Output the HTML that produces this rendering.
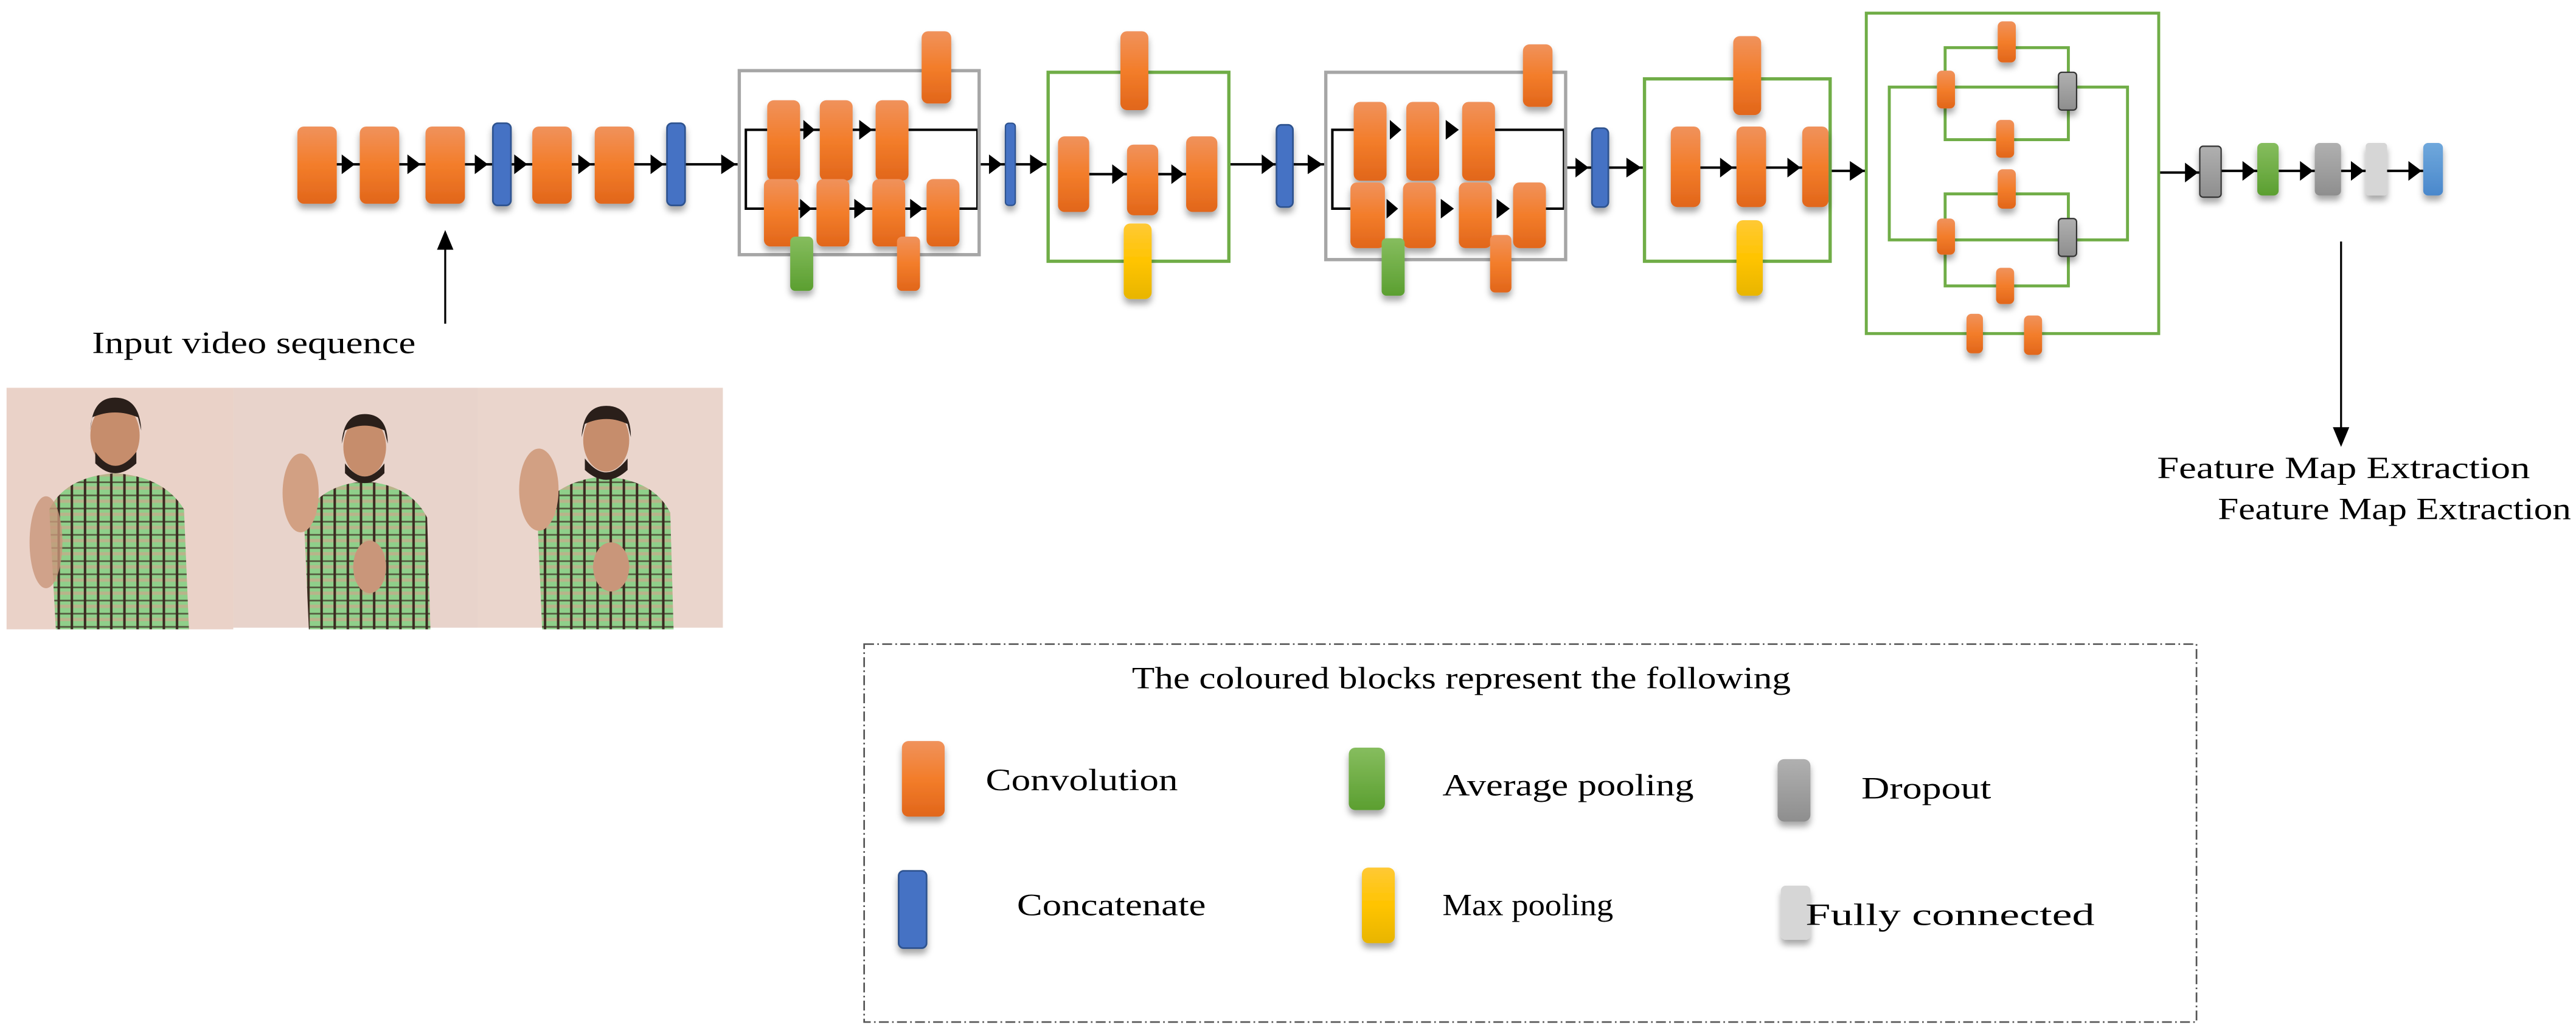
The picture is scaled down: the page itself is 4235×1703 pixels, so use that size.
<!DOCTYPE html>
<html><head><meta charset="utf-8"><style>
html,body{margin:0;padding:0;background:#fff;}
svg{display:block;}
text{font-family:"Liberation Serif",serif;fill:#000;}
</style></head><body>
<svg width="4235" height="1703" viewBox="0 0 1568 630.5" preserveAspectRatio="none" xmlns="http://www.w3.org/2000/svg">
<defs>
<linearGradient id="or" x1="0" y1="0" x2="0" y2="1"><stop offset="0" stop-color="#f0925c"/><stop offset="0.5" stop-color="#f37d2a"/><stop offset="1" stop-color="#e1661b"/></linearGradient>
<linearGradient id="gr" x1="0" y1="0" x2="0" y2="1"><stop offset="0" stop-color="#86bd5e"/><stop offset="1" stop-color="#5b9f30"/></linearGradient>
<linearGradient id="ye" x1="0" y1="0" x2="0" y2="1"><stop offset="0" stop-color="#ffc935"/><stop offset="0.5" stop-color="#ffc400"/><stop offset="1" stop-color="#e8b500"/></linearGradient>
<linearGradient id="gy" x1="0" y1="0" x2="0" y2="1"><stop offset="0" stop-color="#b0b0b0"/><stop offset="1" stop-color="#8e8e8e"/></linearGradient>
<linearGradient id="bl2" x1="0" y1="0" x2="0" y2="1"><stop offset="0" stop-color="#6fa8dc"/><stop offset="1" stop-color="#4a88cc"/></linearGradient>
<filter id="sh" x="-50%" y="-30%" width="200%" height="170%"><feDropShadow dx="0" dy="3" stdDeviation="2" flood-color="#000" flood-opacity="0.35"/></filter>
<pattern id="plaid" width="8" height="8" patternUnits="userSpaceOnUse"><rect width="8" height="8" fill="#8fcf8a"/><rect x="0" y="0" width="8" height="2" fill="#c9a98a" opacity="0.7"/><rect x="3" y="0" width="1.5" height="8" fill="#3a2a20"/><rect x="0" y="5" width="8" height="1" fill="#3a2a20" opacity="0.7"/></pattern>
</defs>

<g stroke="#000" stroke-width="1.5" fill="none">
<line x1="204" y1="100" x2="219" y2="100"/><line x1="243" y1="100" x2="259" y2="100"/><line x1="283" y1="100" x2="300" y2="100"/><line x1="311" y1="100" x2="324" y2="100"/><line x1="348" y1="100" x2="362" y2="100"/><line x1="386" y1="100" x2="406" y2="100"/><line x1="417" y1="100" x2="449" y2="100"/>
<line x1="596" y1="100" x2="612" y2="100"/><line x1="617" y1="100" x2="637" y2="100"/>
<line x1="748" y1="100" x2="777" y2="100"/><line x1="787" y1="100" x2="806" y2="100"/>
<line x1="953" y1="102" x2="969" y2="102"/><line x1="979" y1="102" x2="1000" y2="102"/>
<line x1="1114" y1="104" x2="1136" y2="104"/>
<line x1="1314" y1="105" x2="1339" y2="105"/><line x1="1352" y1="104" x2="1374" y2="104"/><line x1="1387" y1="104" x2="1409" y2="104"/><line x1="1425" y1="104" x2="1440" y2="104"/><line x1="1453" y1="104" x2="1475" y2="104"/>
<polyline points="467,79 454,79 454,127 465,127"/><line x1="553" y1="79" x2="595" y2="79"/><line x1="595" y1="79" x2="595" y2="127"/><line x1="584" y1="127" x2="595" y2="127"/>
<line x1="487" y1="79" x2="499" y2="79"/><line x1="519" y1="79" x2="533" y2="79"/>
<line x1="486" y1="127" x2="497" y2="127"/><line x1="517" y1="127" x2="531" y2="127"/><line x1="551" y1="127" x2="564" y2="127"/>
<polyline points="824,79 811,79 811,127 822,127"/><line x1="910" y1="79" x2="952" y2="79"/><line x1="952" y1="79" x2="952" y2="127"/><line x1="941" y1="127" x2="952" y2="127"/>
<line x1="663" y1="106" x2="686" y2="106"/><line x1="705" y1="106" x2="722" y2="106"/>
<line x1="1035" y1="102" x2="1057" y2="102"/><line x1="1075" y1="102" x2="1097" y2="102"/>
<line x1="271" y1="142" x2="271" y2="197" stroke-width="1.2"/>
<line x1="1425" y1="147" x2="1425" y2="262" stroke-width="1.2"/>
</g>
<g fill="#000">
<polygon points="208,94 216,100 208,106"/><polygon points="248,94 256,100 248,106"/><polygon points="289,94 297,100 289,106"/><polygon points="313,94 321,100 313,106"/><polygon points="352,94 360,100 352,106"/><polygon points="396,94 404,100 396,106"/><polygon points="439,94 448,100 439,106"/>
<polygon points="602,94 610,100 602,106"/><polygon points="627,94 636,100 627,106"/>
<polygon points="768,94 776,100 768,106"/><polygon points="796,94 805,100 796,106"/>
<polygon points="959,96 967,102 959,108"/><polygon points="990,96 999,102 990,108"/>
<polygon points="1126,98 1135,104 1126,110"/>
<polygon points="1330,99 1338,105 1330,111"/><polygon points="1365,98 1373,104 1365,110"/><polygon points="1400,98 1408,104 1400,110"/><polygon points="1431,98 1439,104 1431,110"/><polygon points="1466,98 1474,104 1466,110"/>
<polygon points="489,73 496,79 489,85"/><polygon points="523,73 531,79 523,85"/>
<polygon points="487,121 494,127 487,133"/><polygon points="520,121 528,127 520,133"/><polygon points="554,121 562,127 554,133"/>
<polygon points="846,73 853,79 846,85"/><polygon points="880,73 888,79 880,85"/>
<polygon points="844,121 851,127 844,133"/><polygon points="877,121 885,127 877,133"/><polygon points="911,121 919,127 911,133"/>
<polygon points="677,100 685,106 677,112"/><polygon points="713,100 721,106 713,112"/>
<polygon points="1047,96 1055,102 1047,108"/><polygon points="1088,96 1096,102 1088,108"/>
<polygon points="266,152 271,140 276,152"/>
<polygon points="1420,260 1425,272 1430,260"/>
</g>

<rect x="450" y="43" width="146" height="112" fill="none" stroke="#a6a6a6" stroke-width="2"/>
<rect x="807" y="44" width="146" height="114" fill="none" stroke="#a6a6a6" stroke-width="2"/>
<rect x="638" y="44" width="110" height="115" fill="none" stroke="#70ad47" stroke-width="2"/>
<rect x="1001" y="48" width="113" height="111" fill="none" stroke="#70ad47" stroke-width="2"/>
<g fill="none" stroke="#70ad47" stroke-width="1.8">
<rect x="1136" y="8" width="178" height="195"/>
<rect x="1150" y="53" width="145" height="93"/>
<rect x="1184" y="29" width="75" height="56"/>
<rect x="1184" y="118" width="75" height="56"/>
</g>

<g filter="url(#sh)">
<rect x="181" y="77" width="24" height="47" rx="4" fill="url(#or)"/>
<rect x="219" y="77" width="24" height="47" rx="4" fill="url(#or)"/>
<rect x="259" y="77" width="24" height="47" rx="4" fill="url(#or)"/>
<rect x="300" y="75" width="11" height="50" rx="3" fill="#4472c4" stroke="#2f528f" stroke-width="1"/>
<rect x="324" y="77" width="24" height="47" rx="4" fill="url(#or)"/>
<rect x="362" y="77" width="24" height="47" rx="4" fill="url(#or)"/>
<rect x="406" y="75" width="11" height="50" rx="3" fill="#4472c4" stroke="#2f528f" stroke-width="1"/>
<rect x="467" y="61" width="20" height="49" rx="4" fill="url(#or)"/>
<rect x="499" y="61" width="20" height="49" rx="4" fill="url(#or)"/>
<rect x="533" y="61" width="20" height="49" rx="4" fill="url(#or)"/>
<rect x="465" y="109" width="21" height="41" rx="4" fill="url(#or)"/>
<rect x="497" y="109" width="20" height="41" rx="4" fill="url(#or)"/>
<rect x="531" y="109" width="20" height="41" rx="4" fill="url(#or)"/>
<rect x="564" y="109" width="20" height="41" rx="4" fill="url(#or)"/>
<rect x="561" y="19" width="18" height="44" rx="4" fill="url(#or)"/>
<rect x="481" y="144" width="14" height="33" rx="3" fill="url(#gr)"/>
<rect x="546" y="144" width="14" height="33" rx="3" fill="url(#or)"/>
<rect x="612" y="75" width="6" height="50" rx="2" fill="#4472c4" stroke="#2f528f" stroke-width="0.8"/>
<rect x="682" y="19" width="17" height="48" rx="4" fill="url(#or)"/>
<rect x="644" y="83" width="19" height="46" rx="4" fill="url(#or)"/>
<rect x="686" y="88" width="19" height="43" rx="4" fill="url(#or)"/>
<rect x="722" y="83" width="19" height="46" rx="4" fill="url(#or)"/>
<rect x="684" y="136" width="17" height="46" rx="4" fill="url(#ye)"/>
<rect x="777" y="76" width="10" height="50" rx="3" fill="#4472c4" stroke="#2f528f" stroke-width="1"/>
<rect x="824" y="62" width="20" height="48" rx="4" fill="url(#or)"/>
<rect x="856" y="62" width="20" height="48" rx="4" fill="url(#or)"/>
<rect x="890" y="62" width="20" height="48" rx="4" fill="url(#or)"/>
<rect x="822" y="111" width="21" height="40" rx="4" fill="url(#or)"/>
<rect x="854" y="111" width="20" height="40" rx="4" fill="url(#or)"/>
<rect x="888" y="111" width="20" height="40" rx="4" fill="url(#or)"/>
<rect x="921" y="111" width="20" height="40" rx="4" fill="url(#or)"/>
<rect x="927" y="27" width="18" height="38" rx="4" fill="url(#or)"/>
<rect x="841" y="145" width="14" height="35" rx="3" fill="url(#gr)"/>
<rect x="907" y="143" width="13" height="35" rx="3" fill="url(#or)"/>
<rect x="969" y="78" width="10" height="48" rx="3" fill="#4472c4" stroke="#2f528f" stroke-width="1"/>
<rect x="1055" y="22" width="17" height="48" rx="4" fill="url(#or)"/>
<rect x="1017" y="77" width="18" height="49" rx="4" fill="url(#or)"/>
<rect x="1057" y="77" width="18" height="49" rx="4" fill="url(#or)"/>
<rect x="1097" y="77" width="16" height="49" rx="4" fill="url(#or)"/>
<rect x="1057" y="134" width="16" height="46" rx="4" fill="url(#ye)"/>
<rect x="1216" y="13" width="11" height="25" rx="3" fill="url(#or)"/>
<rect x="1179" y="43" width="11" height="23" rx="3" fill="url(#or)"/>
<rect x="1253" y="44" width="11" height="23" rx="2" fill="url(#gy)" stroke="#333" stroke-width="0.8"/>
<rect x="1215" y="73" width="11" height="23" rx="3" fill="url(#or)"/>
<rect x="1216" y="103" width="11" height="24" rx="3" fill="url(#or)"/>
<rect x="1179" y="133" width="11" height="22" rx="3" fill="url(#or)"/>
<rect x="1253" y="133" width="11" height="23" rx="2" fill="url(#gy)" stroke="#333" stroke-width="0.8"/>
<rect x="1215" y="163" width="11" height="22" rx="3" fill="url(#or)"/>
<rect x="1197" y="191" width="10" height="24" rx="3" fill="url(#or)"/>
<rect x="1232" y="192" width="11" height="24" rx="3" fill="url(#or)"/>
<rect x="1339" y="89" width="13" height="31" rx="2" fill="url(#gy)" stroke="#333" stroke-width="0.8"/>
<rect x="1374" y="87" width="13" height="32" rx="3" fill="url(#gr)"/>
<rect x="1409" y="87" width="16" height="32" rx="3" fill="url(#gy)"/>
<rect x="1440" y="87" width="13" height="32" rx="2" fill="#d6d6d6"/>
<rect x="1475" y="87" width="12" height="32" rx="3" fill="url(#bl2)"/>
</g>

<text x="56" y="215" font-size="19" textLength="197" lengthAdjust="spacingAndGlyphs">Input video sequence</text>
<text x="1313" y="291" font-size="19" textLength="227" lengthAdjust="spacingAndGlyphs">Feature Map Extraction</text>
<text x="1350" y="316" font-size="19" textLength="215" lengthAdjust="spacingAndGlyphs">Feature Map Extraction</text>

<g>
<rect x="4" y="236" width="138" height="147" fill="#ead2c8"/>
<rect x="142" y="236" width="149" height="146" fill="#e8d3cb"/>
<rect x="291" y="236" width="149" height="146" fill="#ead5cc"/>
<g>
<path d="M34,383 L30,310 Q40,290 70,288 Q100,290 112,310 L115,383 Z" fill="url(#plaid)"/>
<ellipse cx="70" cy="265" rx="15" ry="20" fill="#c68d6c"/><path d="M55,262 Q56,242 70,242 Q85,242 86,262 L84,254 Q70,248 56,254 Z" fill="#2a1f1a"/><path d="M58,275 Q70,292 83,275 L83,282 Q70,294 58,282 Z" fill="#2a1f1a"/>
<ellipse cx="28" cy="330" rx="10" ry="28" fill="#c9967a" opacity="0.8"/>
</g>
<g>
<path d="M188,383 L185,315 Q195,295 222,293 Q250,295 260,315 L262,383 Z" fill="url(#plaid)"/>
<ellipse cx="222" cy="272" rx="13" ry="18" fill="#c68d6c"/><path d="M208,270 Q209,252 222,252 Q236,252 236,270 L234,262 Q222,256 210,262 Z" fill="#2a1f1a"/><path d="M210,282 Q222,298 234,282 L234,288 Q222,300 210,288 Z" fill="#2a1f1a"/>
<ellipse cx="183" cy="300" rx="11" ry="24" fill="#d2a083"/>
<ellipse cx="225" cy="345" rx="10" ry="16" fill="#c9967a"/>
</g>
<g>
<path d="M330,383 L327,312 Q340,292 368,290 Q398,292 408,312 L410,383 Z" fill="url(#plaid)"/>
<ellipse cx="369" cy="268" rx="14" ry="19" fill="#c68d6c"/><path d="M354,266 Q355,247 369,247 Q384,247 384,266 L382,258 Q369,252 356,258 Z" fill="#2a1f1a"/><path d="M356,279 Q369,296 382,279 L382,286 Q369,298 356,286 Z" fill="#2a1f1a"/>
<ellipse cx="328" cy="298" rx="12" ry="25" fill="#d2a083"/>
<ellipse cx="372" cy="345" rx="11" ry="15" fill="#c9967a"/>
</g>
</g>

<rect x="526" y="392" width="811" height="230" fill="none" stroke="#555" stroke-width="1" stroke-dasharray="6,2,1,2"/>
<text x="689" y="419" font-size="19" textLength="401" lengthAdjust="spacingAndGlyphs">The coloured blocks represent the following</text>
<g filter="url(#sh)">
<rect x="549" y="451" width="26" height="46" rx="4" fill="url(#or)"/>
<rect x="821" y="455" width="22" height="38" rx="4" fill="url(#gr)"/>
<rect x="1082" y="462" width="20" height="38" rx="4" fill="url(#gy)"/>
<rect x="547" y="530" width="17" height="47" rx="3" fill="#4472c4" stroke="#2f528f" stroke-width="1"/>
<rect x="829" y="528" width="20" height="46" rx="4" fill="url(#ye)"/>
<rect x="1084" y="539" width="18" height="33" rx="3" fill="#d6d6d6"/>
</g>
<text x="600" y="481" font-size="19" textLength="117" lengthAdjust="spacingAndGlyphs">Convolution</text>
<text x="878" y="484" font-size="19" textLength="153" lengthAdjust="spacingAndGlyphs">Average pooling</text>
<text x="1133" y="486" font-size="19" textLength="79" lengthAdjust="spacingAndGlyphs">Dropout</text>
<text x="619" y="557" font-size="19" textLength="115" lengthAdjust="spacingAndGlyphs">Concatenate</text>
<text x="878" y="557" font-size="19" textLength="104" lengthAdjust="spacingAndGlyphs">Max pooling</text>
<text x="1099" y="563" font-size="19" textLength="176" lengthAdjust="spacingAndGlyphs">Fully connected</text>
</svg>
</body></html>
